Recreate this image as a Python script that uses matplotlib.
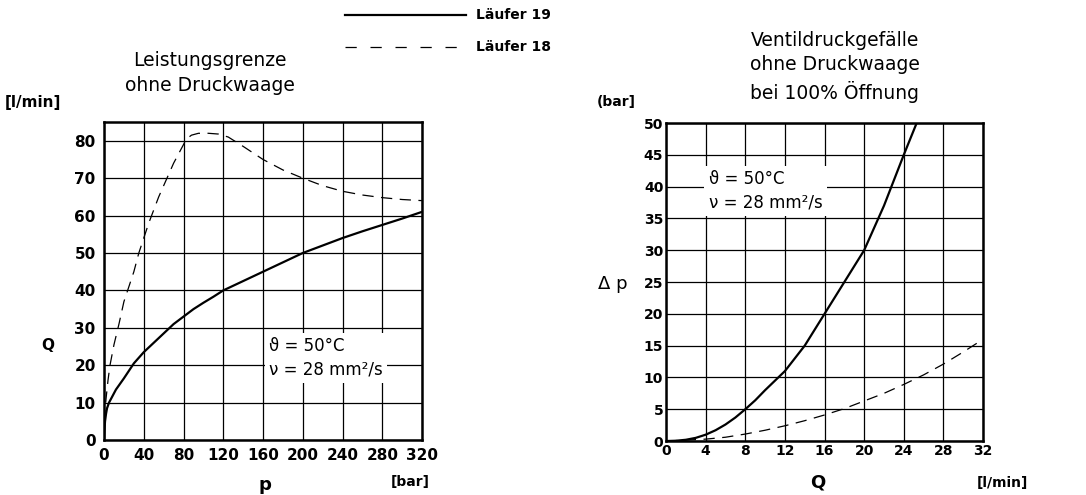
import matplotlib.pyplot as plt
import numpy as np

plt.rcParams['font.family'] = ['DejaVu Sans']

# left chart: Leistungsgrenze, Q over p
p_19 = [0, 0.5, 1, 2, 3, 5, 8, 12, 20, 30, 40, 50, 60, 70, 80, 90, 100, 110, 120, 140, 160,
        180, 200, 220, 240, 260, 280, 300, 320]
q_19 = [0, 3, 5, 7, 8.5, 10, 11.5, 13.5, 16.5, 20.5, 23.5, 26, 28.5, 31, 33, 35, 36.7, 38.3, 40,
        42.5, 45, 47.5, 50, 52, 54, 55.8, 57.5, 59.2, 61]
p_18 = [0, 1, 2, 4, 6, 10, 15, 20, 25, 30, 35, 40, 45, 50, 55, 60, 65, 70, 75, 80, 83, 88, 95,
        105, 115, 125, 140, 160, 180, 200, 220, 240, 260, 280, 300, 320]
q_18 = [0, 8, 11, 16, 20, 25.5, 31, 37, 41, 45, 50, 54, 58, 61.5, 65, 68, 71, 74, 76.5, 79, 80.5,
        81.5, 82, 82, 81.8, 81, 78.5, 75, 72.2, 70, 68, 66.5, 65.5, 64.8, 64.3, 64]

# right chart: Ventildruckgefaelle, dp over Q
qv_19 = [0, 1, 2, 3, 4, 5, 6, 7, 8, 9, 10, 11, 12, 13, 14, 15, 16, 17, 18, 19, 20, 21, 22, 23, 24, 25.3]
dp_19 = [0, 0.05, 0.2, 0.5, 1, 1.7, 2.6, 3.7, 5, 6.4, 8, 9.5, 11, 13, 15, 17.5, 20, 22.5, 25,
         27.5, 30, 33.5, 37, 41, 45, 50]
qv_18 = [0, 4, 6, 8, 10, 12, 14, 16, 18, 20, 22, 24, 26, 28, 30, 32]
dp_18 = [0, 0.3, 0.6, 1.1, 1.7, 2.4, 3.2, 4.1, 5.1, 6.3, 7.5, 8.9, 10.4, 12.1, 14, 16]

fig = plt.figure(figsize=(10.86, 4.95), dpi=100)

bold = dict(fontsize=11, fontweight='bold')
dash = (0, (9, 6))

# ---- left
ax1 = fig.add_axes([0.0958, 0.111, 0.2928, 0.6424])
ax1.plot(p_19, q_19, color='black', lw=1.6)
ax1.plot(p_18, q_18, color='black', lw=0.9, linestyle=dash)
ax1.set_xlim(0, 320)
ax1.set_ylim(0, 85)
ax1.set_xticks(np.arange(0, 321, 40))
ax1.set_yticks(np.arange(0, 81, 10))
ax1.grid(True, color='black', lw=0.9)
ax1.tick_params(length=0, pad=6, labelsize=11)
for lab in ax1.get_xticklabels() + ax1.get_yticklabels():
    lab.set_fontweight('bold')
for s in ax1.spines.values():
    s.set_linewidth(1.8)
ax1.text(166, 22, 'ϑ = 50°C\nν = 28 mm²/s', fontsize=12, ha='left', va='center',
         linespacing=1.4, bbox=dict(facecolor='white', edgecolor='none', pad=3), zorder=5)

fig.text(210 / 1086, 1 - 73 / 495, 'Leistungsgrenze\nohne Druckwaage', ha='center', va='center',
         fontsize=13.5, linespacing=1.35)
fig.text(5 / 1086, 1 - 103 / 495, '[l/min]', ha='left', va='center', **bold)
fig.text(48 / 1086, 1 - 345 / 495, 'Q', ha='center', va='center', **bold)
fig.text(265 / 1086, 1 - 485 / 495, 'p', ha='center', va='center', fontsize=13, fontweight='bold')
fig.text(410 / 1086, 1 - 482 / 495, '[bar]', ha='center', va='center', fontsize=10, fontweight='bold')

# legend
fig.add_artist(plt.Line2D([345 / 1086, 466 / 1086], [1 - 15 / 495, 1 - 15 / 495], color='black', lw=1.6))
fig.add_artist(plt.Line2D([345 / 1086, 466 / 1086], [1 - 47 / 495, 1 - 47 / 495], color='black', lw=0.9,
                          linestyle=(0, (9, 11))))
fig.text(476 / 1086, 1 - 15 / 495, 'Läufer 19', ha='left', va='center', fontsize=10, fontweight='bold')
fig.text(476 / 1086, 1 - 47 / 495, 'Läufer 18', ha='left', va='center', fontsize=10, fontweight='bold')

# ---- right
ax2 = fig.add_axes([0.6133, 0.109, 0.2919, 0.6425])
ax2.plot(qv_19, dp_19, color='black', lw=1.6)
ax2.plot(qv_18, dp_18, color='black', lw=0.9, linestyle=dash)
ax2.set_xlim(0, 32)
ax2.set_ylim(0, 50)
ax2.set_xticks(np.arange(0, 33, 4))
ax2.set_yticks(np.arange(0, 51, 5))
ax2.grid(True, color='black', lw=0.9)
ax2.tick_params(length=0, pad=2, labelsize=10)
for lab in ax2.get_xticklabels() + ax2.get_yticklabels():
    lab.set_fontweight('bold')
for s in ax2.spines.values():
    s.set_linewidth(1.8)
ax2.text(4.3, 39.3, 'ϑ = 50°C\nν = 28 mm²/s', fontsize=12, ha='left', va='center',
         linespacing=1.4, bbox=dict(facecolor='white', edgecolor='none', pad=3), zorder=5)

fig.text(835 / 1086, 1 - 67 / 495, 'Ventildruckgefälle\nohne Druckwaage\nbei 100% Öffnung',
         ha='center', va='center', fontsize=13.5, linespacing=1.35)
fig.text(597 / 1086, 1 - 102 / 495, '(bar]', ha='left', va='center', fontsize=10, fontweight='bold')
fig.text(613 / 1086, 1 - 284 / 495, 'Δ p', ha='center', va='center', fontsize=13)
fig.text(818 / 1086, 1 - 483 / 495, 'Q', ha='center', va='center', fontsize=13, fontweight='bold')
fig.text(1002 / 1086, 1 - 483 / 495, '[l/min]', ha='center', va='center', fontsize=10, fontweight='bold')

fig.savefig('out.png', dpi=100)
